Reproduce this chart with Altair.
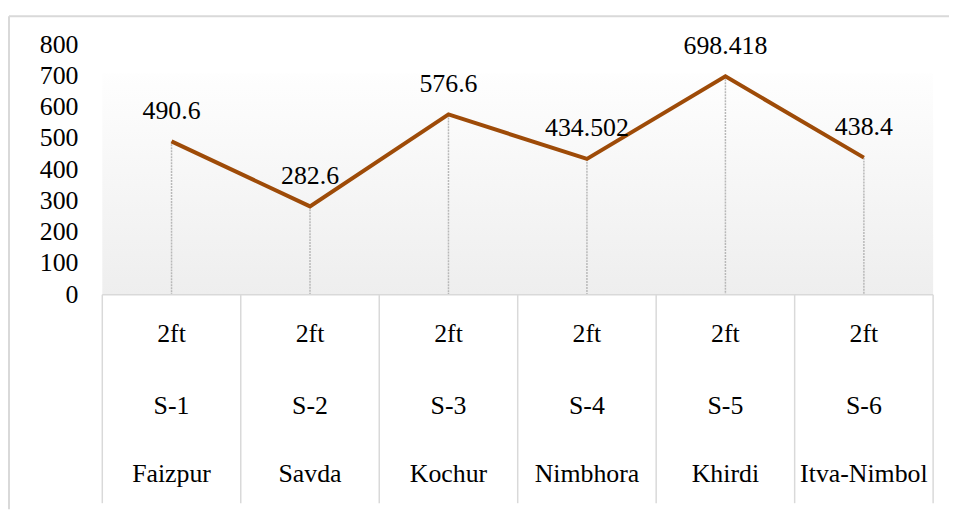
import altair as alt
import pandas as pd

# ---- data ----
sites = ["Faizpur", "Savda", "Kochur", "Nimbhora", "Khirdi", "Itva-Nimbol"]
codes = ["S-1", "S-2", "S-3", "S-4", "S-5", "S-6"]
depths = ["2ft", "2ft", "2ft", "2ft", "2ft", "2ft"]
values = [490.6, 282.6, 576.6, 434.502, 698.418, 438.4]
value_labels = ["490.6", "282.6", "576.6", "434.502", "698.418", "438.4"]
y_ticks = [0, 100, 200, 300, 400, 500, 600, 700, 800]

FONT = "Liberation Serif"
FS = 26
GRID = "#d9d9d9"
LINE = "#9e4b08"

df = pd.DataFrame({
    "i": list(range(len(sites))),
    "site": sites,
    "code": codes,
    "depth": depths,
    "v": values,
    "label": value_labels,
})
bounds = pd.DataFrame({"b": [k - 0.5 for k in range(len(sites) + 1)]})
ticks = pd.DataFrame({"t": y_ticks})
one = pd.DataFrame({"a": [0]})

xs = alt.Scale(domain=[-0.5, len(sites) - 0.5], range=[95, 932])
ys = alt.Scale(domain=[0, 800], range=[287, 35])

X = alt.X("i:Q", scale=xs, axis=None)
Y = alt.Y("v:Q", scale=ys, axis=None)

bg = alt.Chart(one).mark_rect(
    fill=alt.Gradient(
        gradient="linear",
        stops=[alt.GradientStop(color="#fefefe", offset=0),
               alt.GradientStop(color="#eeeeee", offset=1)],
        x1=0, x2=0, y1=0, y2=1,
    )
).encode(x=alt.value(95), x2=alt.value(932), y=alt.value(64), y2=alt.value(287))

frame_left = alt.Chart(one).mark_rule(color=GRID, strokeWidth=2).encode(
    x=alt.value(1), y=alt.value(6.5), y2=alt.value(503))
frame_top = alt.Chart(one).mark_rule(color=GRID, strokeWidth=2).encode(
    x=alt.value(1), x2=alt.value(948), y=alt.value(6.5))

axis_line = alt.Chart(one).mark_rule(color=GRID, strokeWidth=1.5).encode(
    x=alt.value(95), x2=alt.value(932), y=alt.value(287))

seps = alt.Chart(bounds).mark_rule(color=GRID, strokeWidth=1.5).encode(
    x=alt.X("b:Q", scale=xs, axis=None), y=alt.value(287), y2=alt.value(497))

drops = alt.Chart(df).mark_rule(color="#b8b8b8", strokeWidth=1.5, strokeDash=[2, 1]).encode(
    x=X, y=Y, y2=alt.Y2(datum=0))

line = alt.Chart(df).mark_line(color=LINE, strokeWidth=4).encode(x=X, y=Y)

vlabels = alt.Chart(df).mark_text(
    font=FONT, fontSize=FS, color="black", baseline="alphabetic", dy=-23
).encode(x=X, y=Y, text="label:N")

def cat_row(field, ypix):
    return alt.Chart(df).mark_text(
        font=FONT, fontSize=FS, color="black", baseline="alphabetic"
    ).encode(x=X, y=alt.value(ypix), text=f"{field}:N")

row1 = cat_row("depth", 335)
row2 = cat_row("code", 407)
row3 = cat_row("site", 476)

ylabels = alt.Chart(ticks).mark_text(
    font=FONT, fontSize=FS, color="black", align="right", baseline="middle"
).encode(x=alt.value(71), y=alt.Y("t:Q", scale=ys, axis=None), text="t:Q")

chart = alt.layer(
    bg, frame_left, frame_top, drops, axis_line, seps, line, vlabels, row1, row2, row3, ylabels
).properties(
    width=948, height=503,
    autosize=alt.AutoSizeParams(type="none"),
    padding=0,
).configure(font=FONT).configure_text(font=FONT).configure_view(stroke=None)

chart.save("out.html", embed_options={"renderer": "svg", "actions": False})
